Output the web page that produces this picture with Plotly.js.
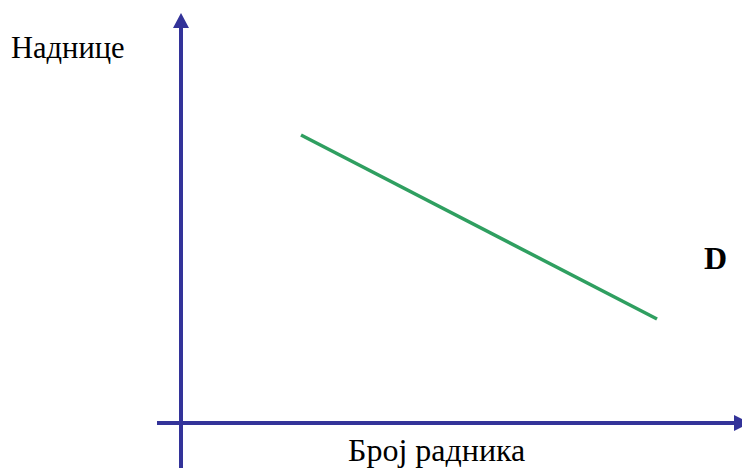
<!DOCTYPE html>
<html>
<head>
<meta charset="utf-8">
<script src="https://cdn.plot.ly/plotly-3.0.1.min.js"></script>
<style>html,body{margin:0;padding:0;background:#fff;}#chart{width:742px;height:468px;}</style>
</head>
<body>
<div id="chart"></div>
<script>
// Demand curve D (schematic): number of workers vs wages
var workers = [120, 476];
var wages = [288, 104];
var xLabel = "Број радника";
var yLabel = "Наднице";
var curveLabel = "D";

var axisColor = "#333399";
var curveColor = "#2f9f60";
var fontFam = "Liberation Serif";

var trace = {
  x: workers, y: wages, mode: "lines", type: "scatter",
  line: {color: curveColor, width: 3.5}, hoverinfo: "skip", showlegend: false
};

var shapes = [
  {type: "line", xref: "x", yref: "y", x0: 0, x1: 0, y0: -60, y1: 396, line: {color: axisColor, width: 4}},
  {type: "path", xref: "x", yref: "y", path: "M -8 395 L 8 395 L 0 410 Z", fillcolor: axisColor, line: {width: 0}},
  {type: "line", xref: "x", yref: "y", x0: -24, x1: 554, y0: 0, y1: 0, line: {color: axisColor, width: 4}},
  {type: "path", xref: "x", yref: "y", path: "M 553 8 L 553 -8 L 569 0 Z", fillcolor: axisColor, line: {width: 0}}
];

var layout = {
  width: 742, height: 468,
  margin: {l: 0, r: 0, t: 0, b: 0},
  paper_bgcolor: "#fff", plot_bgcolor: "#fff",
  font: {family: fontFam},
  xaxis: {range: [-181, 561], visible: false, fixedrange: true},
  yaxis: {range: [-45, 423], visible: false, fixedrange: true},
  shapes: shapes,
  annotations: [
    {text: yLabel, x: -172, y: 375, xref: "x", yref: "y", xanchor: "left", yanchor: "middle", showarrow: false,
     font: {family: fontFam, size: 30.5, color: "#000"}},
    {text: "<b>" + curveLabel + "</b>", x: 534, y: 165, xref: "x", yref: "y", xanchor: "center", yanchor: "middle", showarrow: false,
     font: {family: fontFam, size: 32, color: "#000"}},
    {text: xLabel, x: 255, y: -27, xref: "x", yref: "y", xanchor: "center", yanchor: "middle", showarrow: false,
     font: {family: fontFam, size: 32, color: "#000"}}
  ]
};

Plotly.newPlot("chart", [trace], layout, {staticPlot: true, displayModeBar: false});
</script>
</body>
</html>
